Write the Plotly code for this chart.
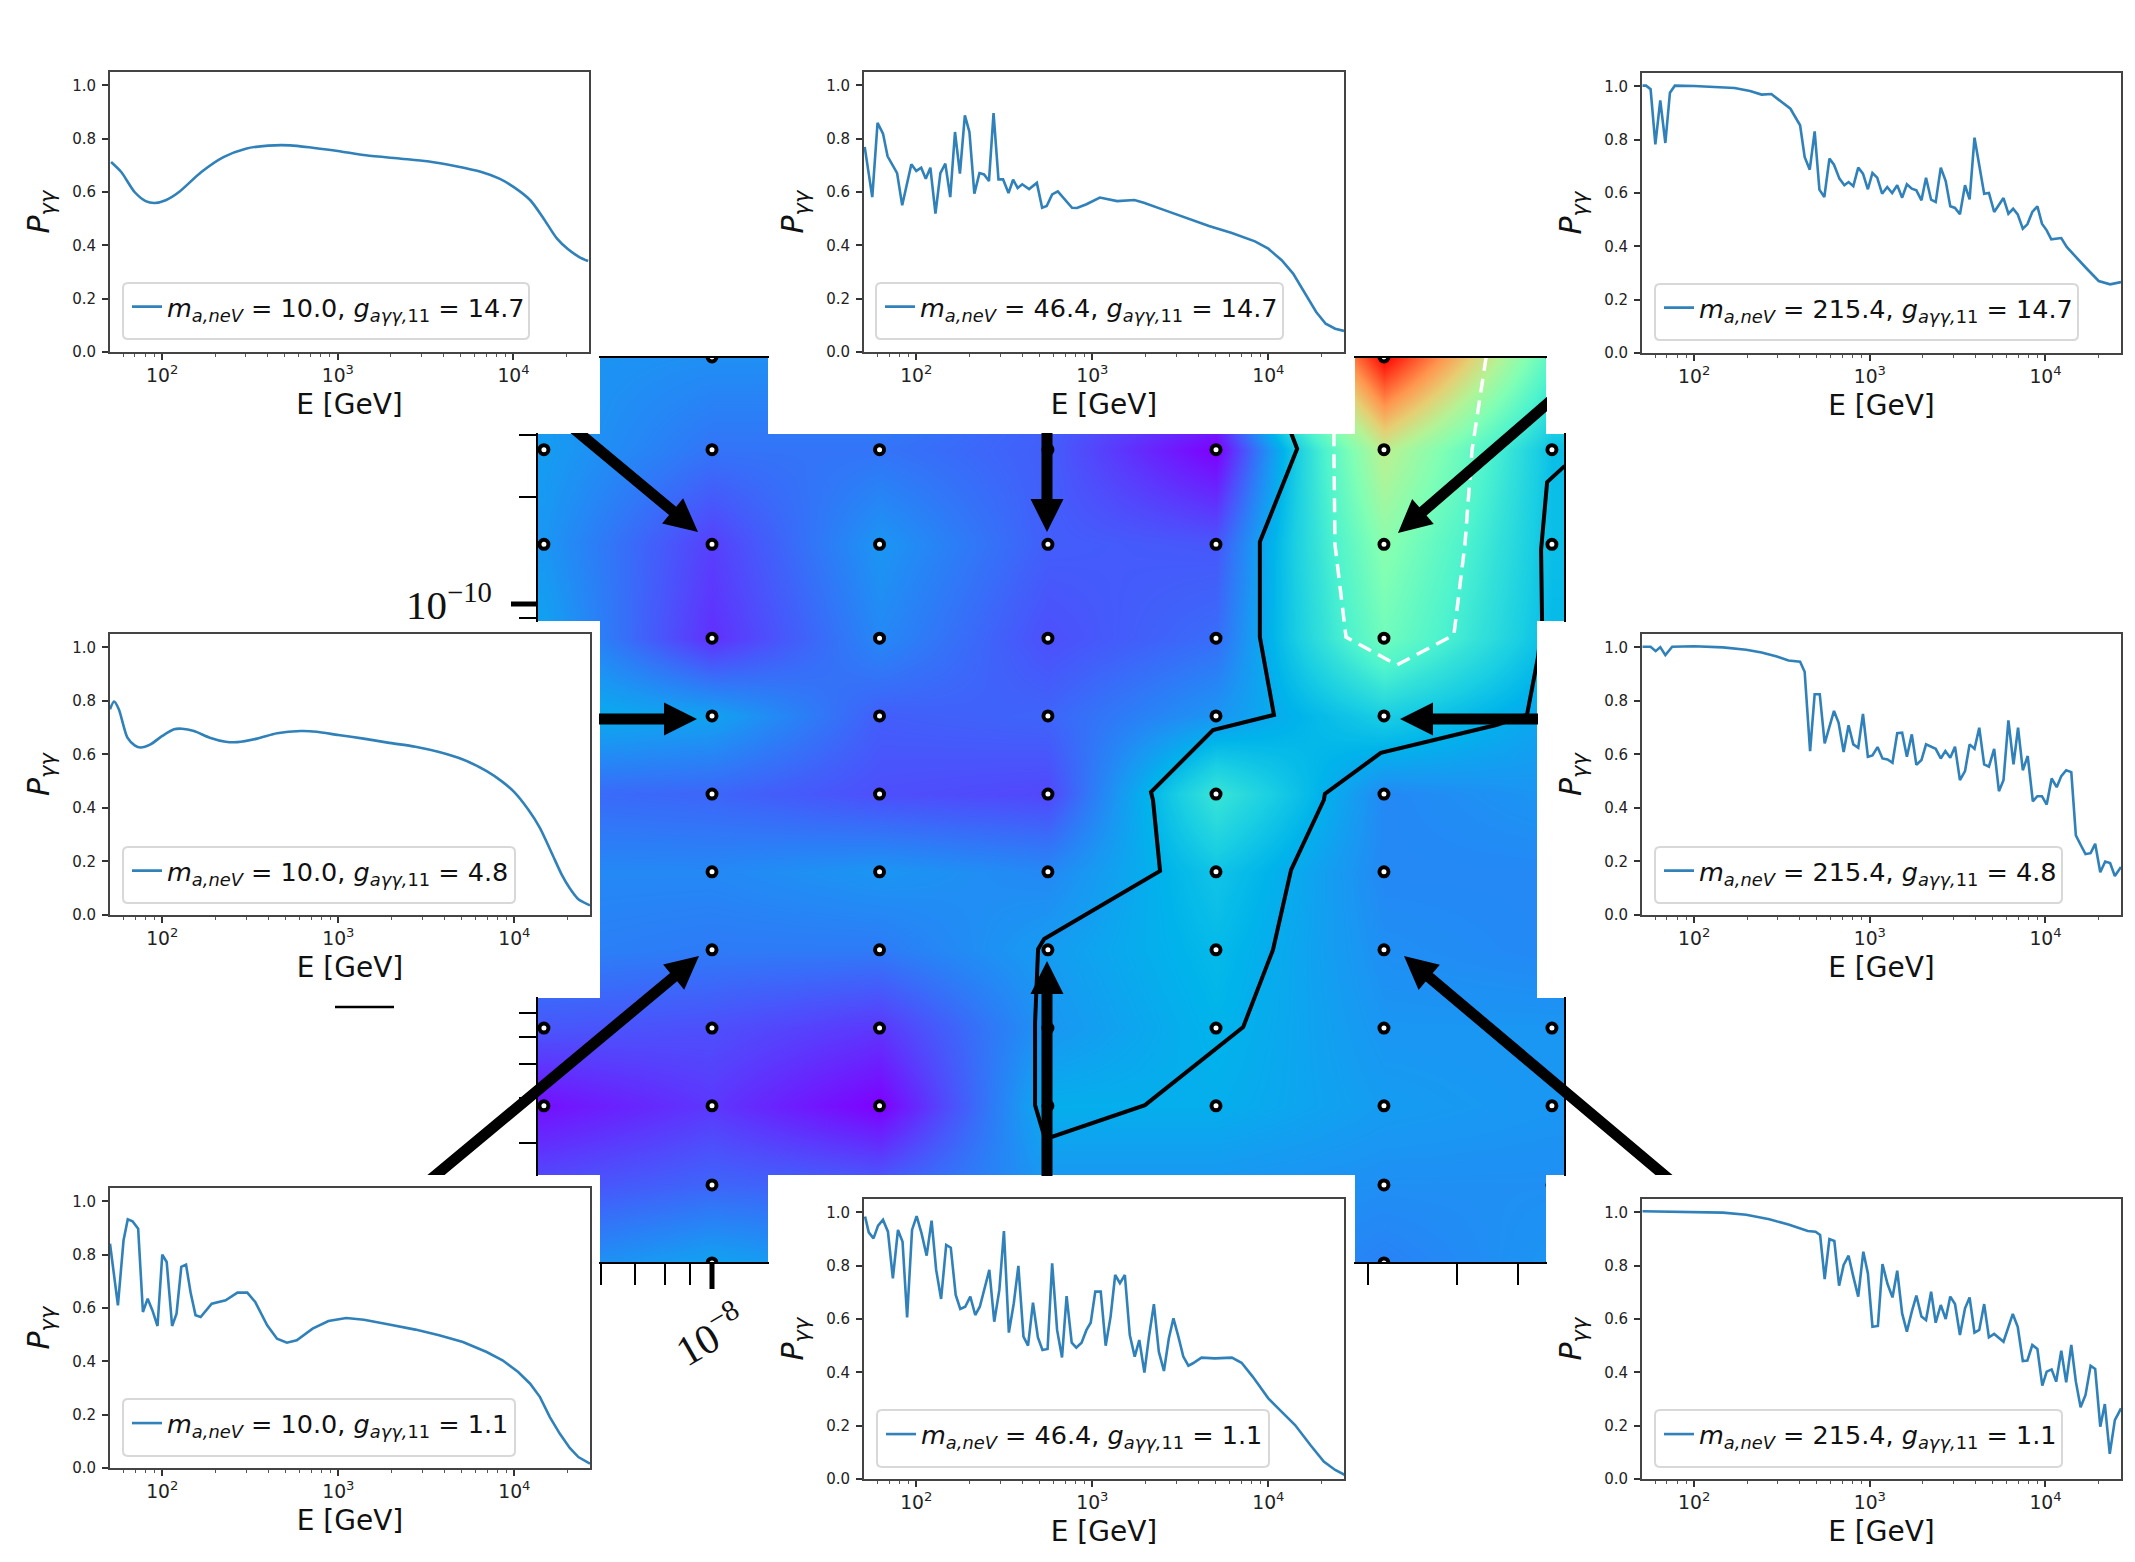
import plotly.graph_objects as go
import numpy as np

W, H = 2135, 1562

# ---------- central map ----------
mass_nev = [4.64, 10.0, 21.5, 46.4, 100.0, 215.4, 464.0]
g_11 = [0.148, 0.243, 0.402, 0.659, 1.084, 1.78, 2.92, 4.8, 7.87, 14.3, 26.1, 47.1]
# rows from smallest coupling to largest
map_z = [
    [.18, .22, .19, .18, .20, .17, .20],
    [.10, .13, .12, .20, .20, .19, .19],
    [.02, .07, .00, .24, .24, .21, .20],
    [.11, .10, .07, .20, .25, .20, .20],
    [.17, .16, .16, .21, .26, .19, .18],
    [.18, .18, .20, .18, .28, .18, .18],
    [.14, .13, .10, .09, .36, .18, .20],
    [.24, .22, .12, .13, .20, .30, .22],
    [.22, .06, .18, .10, .14, .47, .26],
    [.20, .08, .20, .12, .11, .52, .27],
    [.21, .15, .15, .12, .00, .62, .27],
    [.20, .19, .19, .13, .15, 1.0, .42],
]
contour_log_m = [2.149, 2.161, 2.087, 2.087, 2.115, 1.994, 1.871, 1.875, 1.889, 1.659, 1.647, 1.641, 1.641, 1.661,
                 1.859, 2.054, 2.113, 2.149, 2.214, 2.216, 2.327, 2.556, 2.617, 2.639, 2.647, 2.645, 2.657, 2.692]
contour_log_g = [1.463, 1.419, 1.162, .899, .684, .642, .471, .449, .253, .065, .037, -.167, -.394, -.488,
                 -.394, -.178, .035, .256, .449, .466, .579, .656, .684, .844, .941, 1.14, 1.327, 1.372]
dashed_log_m = [2.536, 2.508, 2.494, 2.472, 2.359, 2.258, 2.236, 2.234, 2.234]
dashed_log_g = [1.673, 1.416, 1.156, .905, .822, .899, 1.156, 1.416, 1.673]

rainbow = [[0, '#7f00ff'], [.1, '#4d4ffc'], [.15, '#3374f8'], [.2, '#1a96f3'], [.25, '#00b4eb'], [.3, '#1acee3'],
           [.4, '#4df3ce'], [.5, '#80ffb4'], [.6, '#b3f396'], [.7, '#e6ce73'], [.8, '#ff964f'], [.9, '#ff4d27'], [1, '#ff0000']]

# ---------- spectra: log10(E/GeV) and P ----------
log_e_tl = [1.709,1.767,1.843,1.906,1.957,2.02,2.096,2.223,2.349,2.476,2.603,2.729,2.856,3.0,3.16,3.36,3.51,3.666,3.818,3.92,4.0,4.096,4.172,4.248,4.311,4.375,4.425]
p_tl = [.7125,.675,.60,.566,.559,.569,.60,.675,.731,.7625,.774,.775,.766,.754,.7375,.725,.715,.6975,.675,.65,.619,.569,.50,.425,.385,.356,.341]

log_e_ml = [1.703,1.726,1.753,1.802,1.843,1.876,1.933,2.0,2.067,2.112,2.18,2.27,2.36,2.427,2.539,2.652,2.787,2.876,3.0,3.144,3.281,3.438,3.573,3.708,3.843,3.933,4.0,4.079,4.146,4.213,4.27,4.315,4.364,4.43]
p_ml = [.769,.7975,.769,.6625,.634,.626,.6375,.669,.694,.696,.6875,.6625,.6475,.646,.659,.679,.6875,.685,.6725,.659,.644,.629,.609,.581,.5375,.4975,.459,.394,.325,.231,.15,.10,.059,.036]

log_e_bl = [1.703,1.748,1.78,1.804,1.831,1.863,1.89,1.917,1.944,1.973,2.0,2.025,2.056,2.081,2.108,2.135,2.162,2.189,2.218,2.281,2.36,2.427,2.483,2.528,2.596,2.652,2.708,2.764,2.854,2.944,3.045,3.146,3.281,3.438,3.573,3.708,3.843,3.933,4.022,4.09,4.146,4.202,4.258,4.315,4.364,4.43]
p_bl = [.841,.61,.854,.9325,.925,.8975,.585,.635,.591,.5325,.80,.7725,.5325,.579,.754,.7625,.654,.5725,.566,.616,.629,.6575,.6575,.6225,.535,.485,.47,.479,.5225,.551,.5625,.556,.539,.519,.4975,.4725,.435,.404,.36,.316,.266,.191,.129,.075,.041,.016]

log_e_tc = [1.707,1.75,1.78,1.811,1.837,1.891,1.92,1.972,2.0,2.028,2.054,2.08,2.109,2.137,2.165,2.193,2.22,2.248,2.276,2.302,2.33,2.359,2.385,2.413,2.439,2.467,2.493,2.524,2.55,2.576,2.602,2.641,2.685,2.715,2.741,2.772,2.804,2.848,2.885,2.913,2.967,3.043,3.141,3.239,3.293,3.402,3.533,3.663,3.793,3.924,4.0,4.076,4.141,4.207,4.272,4.326,4.38,4.43]
p_tc = [.769,.581,.859,.819,.734,.671,.55,.704,.679,.691,.65,.691,.519,.671,.706,.581,.825,.669,.8875,.825,.594,.671,.666,.641,.896,.6475,.6475,.596,.646,.615,.629,.611,.634,.541,.5475,.591,.6025,.569,.541,.54,.554,.579,.566,.57,.56,.534,.504,.4725,.446,.415,.3875,.344,.294,.219,.15,.106,.0875,.079]

log_e_tr = [1.706,1.726,1.752,1.779,1.807,1.836,1.862,1.89,2.0,2.121,2.23,2.318,2.384,2.439,2.493,2.548,2.603,2.629,2.658,2.686,2.713,2.741,2.77,2.796,2.827,2.855,2.879,2.906,2.934,2.961,2.989,3.015,3.042,3.07,3.099,3.127,3.156,3.184,3.211,3.239,3.265,3.294,3.32,3.349,3.375,3.404,3.432,3.458,3.485,3.513,3.542,3.568,3.596,3.651,3.678,3.708,3.761,3.789,3.816,3.842,3.871,3.897,3.925,3.954,3.98,4.007,4.033,4.09,4.121,4.171,4.226,4.303,4.368,4.43]
p_tr = [1.0025,1.0025,.989,.7825,.9475,.7875,.976,1.0025,1.001,.9975,.994,.9825,.969,.971,.944,.916,.854,.735,.6875,.831,.6125,.585,.729,.706,.654,.629,.641,.626,.695,.6725,.614,.675,.6575,.5975,.6225,.6,.629,.5825,.6325,.616,.61,.5725,.6575,.575,.566,.695,.645,.55,.544,.52,.629,.576,.8075,.5975,.6,.529,.581,.5225,.541,.52,.466,.4825,.529,.55,.485,.46,.426,.431,.3975,.36,.3225,.27,.2575,.266]

log_e_mr = [1.706,1.752,1.781,1.807,1.836,1.875,2.0,2.164,2.296,2.384,2.471,2.537,2.603,2.629,2.66,2.686,2.715,2.743,2.796,2.822,2.851,2.879,2.906,2.934,2.961,2.989,3.015,3.044,3.072,3.101,3.129,3.156,3.184,3.211,3.239,3.265,3.294,3.32,3.375,3.404,3.43,3.458,3.485,3.513,3.542,3.568,3.596,3.623,3.651,3.678,3.708,3.735,3.761,3.789,3.818,3.844,3.871,3.899,3.928,3.954,3.98,4.007,4.035,4.064,4.09,4.118,4.147,4.173,4.2,4.228,4.257,4.283,4.312,4.34,4.368,4.395,4.43]
p_mr = [1.0025,1.0025,.986,1.001,.971,1.0025,1.004,1.0,.991,.981,.966,.951,.946,.909,.6125,.825,.825,.641,.7625,.719,.609,.709,.6375,.625,.751,.591,.596,.6275,.585,.581,.569,.679,.681,.591,.675,.561,.579,.6375,.621,.585,.6125,.5875,.629,.504,.5375,.6375,.621,.70,.5625,.554,.621,.4625,.504,.7275,.5625,.70,.541,.594,.425,.444,.444,.4125,.51,.4775,.519,.541,.534,.2975,.2625,.2275,.231,.266,.16,.2,.194,.146,.179]

log_e_bc = [1.709,1.73,1.757,1.783,1.811,1.839,1.867,1.896,1.922,1.948,1.976,2.002,2.03,2.059,2.087,2.113,2.141,2.17,2.196,2.224,2.25,2.278,2.307,2.335,2.361,2.391,2.415,2.443,2.472,2.498,2.526,2.554,2.58,2.609,2.635,2.663,2.691,2.717,2.746,2.772,2.8,2.828,2.854,2.883,2.909,2.939,2.967,2.991,3.017,3.048,3.076,3.104,3.13,3.157,3.185,3.213,3.241,3.267,3.296,3.322,3.35,3.378,3.407,3.435,3.461,3.489,3.517,3.546,3.572,3.62,3.696,3.793,3.848,3.911,4.0,4.065,4.152,4.239,4.315,4.38,4.433]
p_bc = [.984,.925,.9025,.95,.9725,.9275,.7525,.934,.89,.606,.934,.986,.921,.8375,.969,.784,.675,.8775,.8675,.69,.6375,.646,.684,.615,.646,.7275,.784,.59,.709,.93,.549,.659,.799,.534,.50,.661,.531,.484,.4875,.809,.559,.456,.686,.511,.4925,.511,.559,.586,.7025,.7025,.50,.609,.765,.734,.765,.54,.459,.521,.399,.534,.656,.4775,.405,.5275,.6025,.534,.459,.425,.434,.455,.4525,.455,.436,.384,.3025,.259,.2025,.1275,.065,.034,.016]

log_e_br = [1.706,1.836,2.0,2.164,2.296,2.428,2.537,2.647,2.691,2.717,2.743,2.77,2.798,2.825,2.851,2.879,2.906,2.934,2.963,2.989,3.015,3.046,3.072,3.101,3.129,3.156,3.184,3.211,3.239,3.265,3.294,3.32,3.349,3.375,3.404,3.432,3.458,3.485,3.513,3.542,3.568,3.596,3.623,3.651,3.678,3.708,3.761,3.814,3.842,3.871,3.897,3.925,3.954,3.982,4.007,4.035,4.061,4.09,4.118,4.147,4.173,4.2,4.228,4.257,4.283,4.312,4.338,4.366,4.395,4.43]
p_br = [1.004,1.0025,1.0025,.999,.991,.974,.954,.93,.9275,.915,.75,.90,.8925,.725,.8025,.8375,.759,.684,.8525,.771,.571,.574,.806,.731,.681,.781,.621,.5525,.6275,.6875,.609,.596,.7025,.586,.6525,.60,.684,.656,.54,.64,.681,.549,.559,.656,.531,.544,.515,.619,.571,.4425,.444,.5025,.4875,.35,.4025,.411,.365,.481,.3625,.5025,.365,.269,.315,.425,.4125,.196,.281,.094,.221,.265]

panels = [
    # m, g, logE, P, line shape, plot box (l, r, t, b), legend box (l, r, t, b)
    ("10.0", "14.7", log_e_tl, p_tl, 'spline', (110, 589, 72, 352), (123, 529, 283, 339)),
    ("46.4", "14.7", log_e_tc, p_tc, 'linear', (864, 1344, 72, 352), (876, 1283, 283, 339)),
    ("215.4", "14.7", log_e_tr, p_tr, 'linear', (1642, 2121, 73, 353), (1655, 2078, 284, 340)),
    ("10.0", "4.8", log_e_ml, p_ml, 'spline', (110, 590, 634, 915), (123, 515, 847, 903)),
    ("215.4", "4.8", log_e_mr, p_mr, 'linear', (1642, 2121, 634, 915), (1655, 2062, 847, 903)),
    ("10.0", "1.1", log_e_bl, p_bl, 'linear', (110, 590, 1188, 1468), (123, 515, 1399, 1456)),
    ("46.4", "1.1", log_e_bc, p_bc, 'linear', (864, 1344, 1199, 1479), (877, 1269, 1410, 1467)),
    ("215.4", "1.1", log_e_br, p_br, 'linear', (1642, 2121, 1199, 1479), (1655, 2062, 1410, 1467)),
]

# ---------- pixel helpers for the decorations ----------
MAP_L, MAP_R, MAP_T, MAP_B = 537, 1565, 357, 1263
def xd(px): return 10 ** (1 + (px - 712) / 504)
def yd(py): return 10 ** (0.681 + (716 - py) / 362)
def px(x): return x / W
def py(y): return 1 - y / H

fig = go.Figure()
fig.add_trace(go.Heatmap(x=mass_nev, y=g_11, z=map_z, colorscale=rainbow, zmin=0, zmax=1, zsmooth='best',
                         showscale=False, hoverinfo='skip'))
fig.add_trace(go.Scatter(x=10 ** np.array(contour_log_m), y=10 ** np.array(contour_log_g), mode='lines',
                         line=dict(color='black', width=4), showlegend=False, hoverinfo='skip'))
fig.add_trace(go.Scatter(x=10 ** np.array(dashed_log_m), y=10 ** np.array(dashed_log_g), mode='lines',
                         line=dict(color='white', width=3.5, dash='14px,8px'), showlegend=False, hoverinfo='skip'))
gx, gy = np.meshgrid(mass_nev, g_11)
fig.add_trace(go.Scatter(x=gx.ravel(), y=gy.ravel(), mode='markers',
                         marker=dict(size=9, color='white', line=dict(color='black', width=4)),
                         showlegend=False, hoverinfo='skip'))
# white cut-outs round the insets
cuts = [(537, 599, 357, 433), (769, 1354, 357, 433), (1547, 1565, 357, 433), (537, 599, 622, 997),
        (1538, 1565, 622, 997), (537, 599, 1176, 1263), (769, 1354, 1176, 1263), (1547, 1565, 1176, 1263)]
mx, my = [], []
for l, r, t, b in cuts:
    mx += [xd(l - 1), xd(r + 1), xd(r + 1), xd(l - 1), xd(l - 1), None]
    my += [yd(t - 1), yd(t - 1), yd(b + 1), yd(b + 1), yd(t - 1), None]
fig.add_trace(go.Scatter(x=mx, y=my, mode='none', fill='toself', fillcolor='white', showlegend=False, hoverinfo='skip'))

layout = dict(
    width=W, height=H, autosize=False, margin=dict(l=0, r=0, t=0, b=0, pad=0, autoexpand=False),
    paper_bgcolor='white', plot_bgcolor='white', font=dict(family='DejaVu Sans', color='#222'),
    xaxis=dict(type='log', domain=[px(MAP_L), px(MAP_R)], range=[1 + (MAP_L - 712) / 504, 1 + (MAP_R - 712) / 504],
               showgrid=False, zeroline=False, showticklabels=False, ticks='outside', ticklen=21, tickwidth=1.5,
               tickcolor='black', tickmode='array', tickvals=[xd(v) for v in (600.5, 635, 665, 690, 1368, 1457, 1518)]),
    yaxis=dict(type='log', domain=[py(MAP_B), py(MAP_T)], range=[0.681 + (716 - MAP_B) / 362, 0.681 + (716 - MAP_T) / 362],
               showgrid=False, zeroline=False, showticklabels=False, ticks='outside', ticklen=17, tickwidth=1.5,
               tickcolor='black', tickmode='array', tickvals=[yd(v) for v in (435, 497, 618, 1013, 1037, 1064, 1098, 1143)]),
)
shapes = []

for i, (m, g, le, p, shp, (l, r, t, b), (bl, br, bt, bb)) in enumerate(panels):
    n = i + 2
    leg = 'legend' if i == 0 else f'legend{i + 1}'
    fig.add_trace(go.Scatter(
        x=10 ** np.array(le), y=p, mode='lines', line=dict(color='#1f77b4', width=2.6, shape=shp, smoothing=0.7), opacity=0.92,
        xaxis=f'x{n}', yaxis=f'y{n}', legend=leg, showlegend=True,
        name=f'<i>m</i><sub><i>a,neV</i></sub> = {m}, <i>g</i><sub><i>aγγ,</i>11</sub> = {g}'))
    layout[f'xaxis{n}'] = dict(
        type='log', anchor=f'y{n}', domain=[px(l), px(r)], range=[1.703, 4.43], showgrid=False, zeroline=False,
        showline=True, mirror=True, linecolor='#444', linewidth=2, ticks='outside', ticklen=6, tickwidth=1.5,
        tickcolor='#333', dtick=1, exponentformat='power', tickfont=dict(size=15, color='#222'), automargin=False,
        minor=dict(ticks='outside', ticklen=3, tickwidth=1, tickcolor='#555', dtick='D1', showgrid=False),
        title=dict(text='E [GeV]', font=dict(size=28, color='#111'), standoff=10))
    layout[f'yaxis{n}'] = dict(
        anchor=f'x{n}', domain=[py(b), py(t)], range=[0, 1.05], showgrid=False, zeroline=False,
        showline=True, mirror=True, linecolor='#444', linewidth=2, ticks='outside', ticklen=6, tickwidth=1.5,
        tickcolor='#333', tickmode='array', tickvals=[0, .2, .4, .6, .8, 1.0], ticktext=['0.0', '0.2', '0.4', '0.6', '0.8', '1.0'],
        tickfont=dict(size=15, color='#222'), ticklabelstandoff=3, automargin=False,
        title=dict(text='<i>P</i><sub><i>γγ</i></sub>', font=dict(size=30, color='#111'), standoff=14))
    layout[leg] = dict(x=px(bl + 4), y=py((bt + bb) / 2 - 4), xanchor='left', yanchor='middle', bgcolor='rgba(0,0,0,0)',
                       borderwidth=0, font=dict(size=25.5, color='#111'), itemwidth=30, tracegroupgap=0)
    # rounded legend frame
    rad = 5
    q = [(bl + rad, bt), (br - rad, bt), (br, bt), (br, bt + rad), (br, bb - rad), (br, bb), (br - rad, bb),
         (bl + rad, bb), (bl, bb), (bl, bb - rad), (bl, bt + rad), (bl, bt), (bl + rad, bt)]
    f = [f'{px(a):.5f} {py(c):.5f}' for a, c in q]
    path = (f'M {f[0]} L {f[1]} Q {f[2]} {f[3]} L {f[4]} Q {f[5]} {f[6]} L {f[7]} Q {f[8]} {f[9]} L {f[10]} Q {f[11]} {f[12]} Z')
    shapes.append(dict(type='path', xref='paper', yref='paper', path=path, line=dict(color='#d8d8d8', width=2)))

# ---------- arrows, spines and stray ticks of the pasted figure ----------
def arrow(x0, y0, x1, y1, cut=None, shaft=11, head_w=33, head_l=33):
    d = np.array([x1 - x0, y1 - y0], float)
    d /= np.hypot(*d)
    n = np.array([-d[1], d[0]])
    s, e = np.array([x0, y0], float), np.array([x1, y1], float)
    a, b = s + n * shaft / 2, s - n * shaft / 2
    if cut == 'h':
        a, b = a + d * (y0 - a[1]) / d[1], b + d * (y0 - b[1]) / d[1]
    if cut == 'v':
        a, b = a + d * (x0 - a[0]) / d[0], b + d * (x0 - b[0]) / d[0]
    base = e - d * head_l
    pts = [a, base + n * shaft / 2, base + n * head_w / 2, e, base - n * head_w / 2, base - n * shaft / 2, b]
    path = 'M ' + ' L '.join(f'{px(q[0]):.5f} {py(q[1]):.5f}' for q in pts) + ' Z'
    shapes.append(dict(type='path', xref='paper', yref='paper', path=path, fillcolor='black', line=dict(width=0)))

arrow(579, 433, 698, 532, 'h')
arrow(1047, 433, 1047, 532, 'h')
arrow(1547, 404, 1398, 533, 'v')
arrow(599, 719, 697, 719, 'v')
arrow(1538, 719, 1400, 719, 'v')
arrow(436, 1175, 699, 956, 'h')
arrow(1047, 1176, 1047, 961, 'h')
arrow(1664, 1175, 1404, 956, 'h')

def seg(x0, y0, x1, y1, w=2):
    shapes.append(dict(type='line', xref='paper', yref='paper', x0=px(x0), y0=py(y0), x1=px(x1), y1=py(y1),
                       line=dict(color='black', width=w)))
for y in (MAP_T, MAP_B):
    seg(599, y, 769, y); seg(1354, y, 1547, y)
for x in (MAP_L, MAP_R):
    seg(x, 433, x, 622); seg(x, 997, x, 1176)
seg(511, 604, 538, 604, 5)
seg(712, 1263, 712, 1289, 5)
seg(335, 1007, 394, 1007, 2.5)

layout['shapes'] = shapes
layout['annotations'] = [
    dict(xref='paper', yref='paper', x=px(449), y=py(602), showarrow=False, xanchor='center', yanchor='middle',
         text='10<sup>−10</sup>', font=dict(family='Liberation Serif', size=41, color='#111')),
    dict(xref='paper', yref='paper', x=px(709), y=py(1334), showarrow=False, xanchor='center', yanchor='middle',
         textangle=-30, text='10<sup>−8</sup>', font=dict(family='Liberation Serif', size=42, color='#111')),
]
fig.update_layout(**layout)
fig.write_html("out.html", config=dict(displayModeBar=False),
               post_script="document.body.style.margin='0';")
